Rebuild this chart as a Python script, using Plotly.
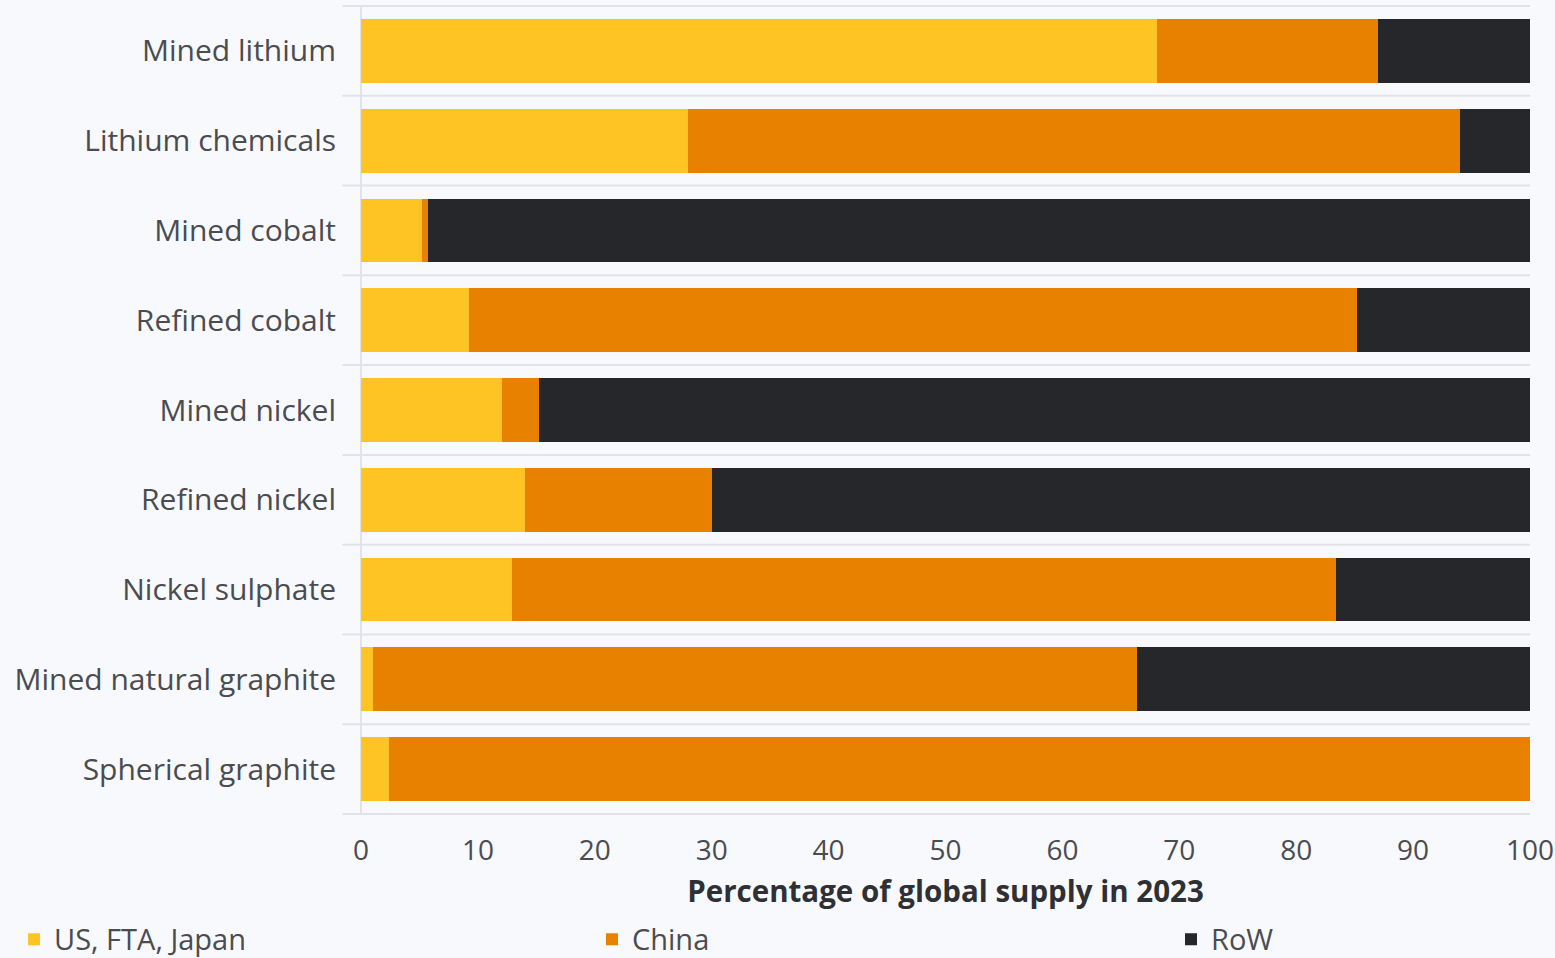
import plotly.graph_objects as go

categories = ["Mined lithium", "Lithium chemicals", "Mined cobalt", "Refined cobalt",
              "Mined nickel", "Refined nickel", "Nickel sulphate",
              "Mined natural graphite", "Spherical graphite"]
us_fta_japan = [68.1, 28.0, 5.2, 9.2, 12.1, 14.0, 12.9, 1.0, 2.4]
china = [18.9, 66.0, 0.5, 76.0, 3.1, 16.0, 70.5, 65.4, 97.6]
row = [13.0, 6.0, 94.3, 14.8, 84.8, 70.0, 16.6, 33.6, 0.0]
x_ticks = [0, 10, 20, 30, 40, 50, 60, 70, 80, 90, 100]

series = [("US, FTA, Japan", us_fta_japan, "#FDC424", "legend"),
          ("China", china, "#E88000", "legend2"),
          ("RoW", row, "#25272B", "legend3")]

FONT = "Open Sans"
TXT = "#4A4C50"
BG = "#F8F9FD"
GRID = "#E1E3E8"

fig = go.Figure()
for name, vals, col, lg in series:
    fig.add_trace(go.Bar(y=categories, x=vals, name=name, orientation="h", legend=lg,
                         marker=dict(color=col, line=dict(width=0)), width=0.71))

shapes = []
for i in range(len(categories) + 1):
    shapes.append(dict(type="line", xref="paper", yref="y", x0=-0.016, x1=1,
                       y0=i - 0.5, y1=i - 0.5, line=dict(color=GRID, width=2), layer="below"))

def leg(xp):
    return dict(orientation="h", x=xp, xanchor="left", y=-0.122, yanchor="top",
                font=dict(size=29, color=TXT), bgcolor="rgba(0,0,0,0)")

fig.update_layout(
    barmode="stack",
    width=1555, height=958,
    paper_bgcolor=BG, plot_bgcolor=BG,
    margin=dict(l=361, r=25, t=5, b=143, autoexpand=False),
    font=dict(family=FONT, color=TXT, size=28),
    shapes=shapes,
    showlegend=True,
    legend=leg(-0.2968),
    legend2=leg(0.1976),
    legend3=leg(0.6929),
    bargap=0.29,
)
fig.update_yaxes(categoryorder="array", categoryarray=categories, autorange="reversed",
                 range=[8.5, -0.5], showgrid=False, zeroline=False, showline=False,
                 ticks="", ticklabelstandoff=24, tickfont=dict(size=30, color=TXT))
fig.update_xaxes(range=[0, 100], tickvals=x_ticks, showgrid=False, zeroline=True,
                 zerolinecolor=GRID, zerolinewidth=2, showline=False, ticks="",
                 ticklabelstandoff=16, tickfont=dict(size=28, color=TXT),
                 title=dict(text="<b>Percentage of global supply in 2023</b>",
                            font=dict(size=29.5, color="#2E3034"), standoff=14))

fig.write_html("out.html")
